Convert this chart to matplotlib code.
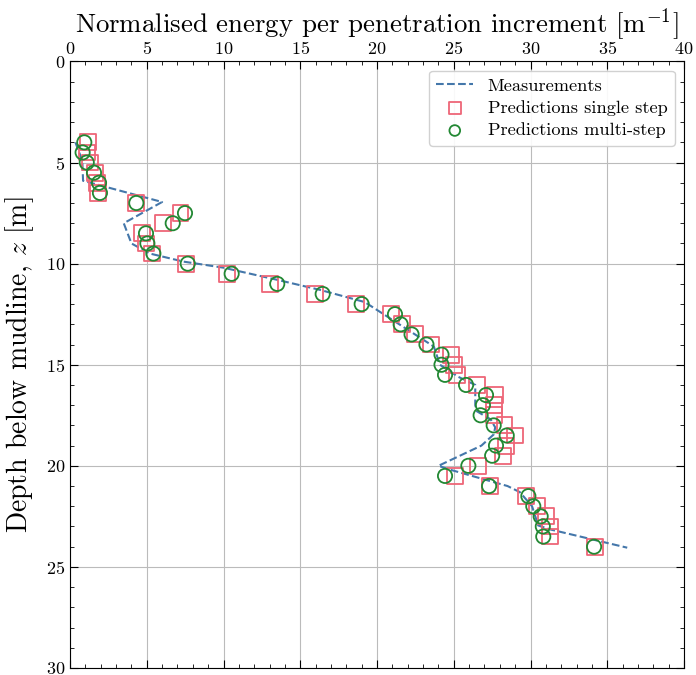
import matplotlib
matplotlib.use("Agg")
import matplotlib.pyplot as plt

plt.rcParams.update({
    "font.family": "serif",
    "font.serif": ["cmr10", "DejaVu Serif"],
    "mathtext.fontset": "cm",
    "axes.formatter.use_mathtext": True,
})

# Measurements (depth [m], value [1/m])
meas_depth = [4.0, 4.9, 5.9, 6.95, 8.0, 9.0, 9.5, 9.9, 10.2, 10.8, 11.3, 11.9,
              14.1, 15.0, 15.6, 16.0, 17.0, 17.3, 17.7, 18.1, 18.45, 19.0,
              20.0, 20.2, 21.0, 21.3, 22.0, 22.95, 23.15, 24.05]
meas_val = [0.35, 0.8, 0.85, 6.0, 3.5, 4.0, 5.2, 7.4, 10.0, 13.5, 16.3, 19.2,
            23.7, 24.1, 25.3, 26.4, 26.4, 26.5, 27.4, 27.7, 27.6, 26.8,
            24.0, 24.8, 28.5, 29.3, 30.1, 30.5, 31.3, 36.3]

pred_depth = [4.0, 4.5, 5.0, 5.5, 6.0, 6.5, 7.0, 7.5, 8.0, 8.5, 9.0, 9.5,
              10.0, 10.5, 11.0, 11.5, 12.0, 12.5, 13.0, 13.5, 14.0, 14.5,
              15.0, 15.5, 16.0, 16.5, 17.0, 17.5, 18.0, 18.5, 19.0, 19.5,
              20.0, 20.5, 21.0, 21.5, 22.0, 22.5, 23.0, 23.5, 24.0]
single_step = [1.15, 1.09, 1.3, 1.63, 1.78, 1.85, 4.3, 7.2, 6.08, 4.67, 4.95, 5.32,
               7.56, 10.25, 13.03, 15.96, 18.63, 20.89, 21.6, 22.5, 23.5, 24.8,
               25.0, 25.2, 26.5, 27.7, 27.6, 27.6, 28.3, 29.0, 28.4, 28.2,
               26.6, 25.08, 27.36, 29.7, 30.4, 31.0, 31.27, 31.27, 34.2]
multi_step = [0.93, 0.82, 1.09, 1.56, 1.89, 1.95, 4.32, 7.49, 6.69, 4.95, 5.04, 5.43,
              7.67, 10.53, 13.5, 16.46, 19.0, 21.17, 21.54, 22.25, 23.22, 24.2,
              24.2, 24.43, 25.8, 27.1, 26.9, 26.75, 27.6, 28.45, 27.75, 27.5,
              25.95, 24.43, 27.3, 29.86, 30.18, 30.66, 30.8, 30.83, 34.14]

blue = "#4477AA"
red = "#EE6677"
green = "#228833"

fig = plt.figure(figsize=(6.96, 6.75), dpi=100)
ax = fig.add_axes([0.1006, 0.0104, 0.8822, 0.8985])

ax.plot(meas_val, meas_depth, ls="--", color=blue, lw=1.5, label="Measurements", zorder=3)
ax.scatter(single_step, pred_depth, marker="s", s=130, facecolors="none",
           edgecolors=red, linewidths=1.3, label="Predictions single step", zorder=4)
ax.scatter(multi_step, pred_depth, marker="o", s=105, facecolors="none",
           edgecolors=green, linewidths=1.3, label="Predictions multi-step", zorder=5)

ax.set_xlim(0, 40)
ax.set_ylim(30, 0)
ax.xaxis.tick_top()
ax.xaxis.set_label_position("top")
ax.set_xticks(range(0, 41, 5))
ax.set_yticks(range(0, 31, 5))
ax.minorticks_on()
ax.tick_params(which="both", direction="in", top=True, bottom=True, left=True, right=True,
               labeltop=True, labelbottom=False, labelsize=13)
ax.tick_params(which="major", length=6, width=0.8)
ax.tick_params(which="minor", length=3, width=0.6)
ax.grid(True, which="major", color="#bbbbbb", lw=0.8, zorder=0)
ax.set_axisbelow(True)

ax.set_xlabel(r"Normalised energy per penetration increment [m$^{-1}$]", fontsize=19.3, labelpad=5)
ax.set_ylabel(r"Depth below mudline, $z$ [m]", fontsize=20, labelpad=7)

leg = ax.legend(loc="upper right", fontsize=13.2, frameon=True, fancybox=True,
                framealpha=0.9, edgecolor="#cccccc", borderpad=0.4, handlelength=2.0,
                markerscale=0.75, labelspacing=0.35, borderaxespad=0.5)

fig.savefig("out.png", dpi=100)
